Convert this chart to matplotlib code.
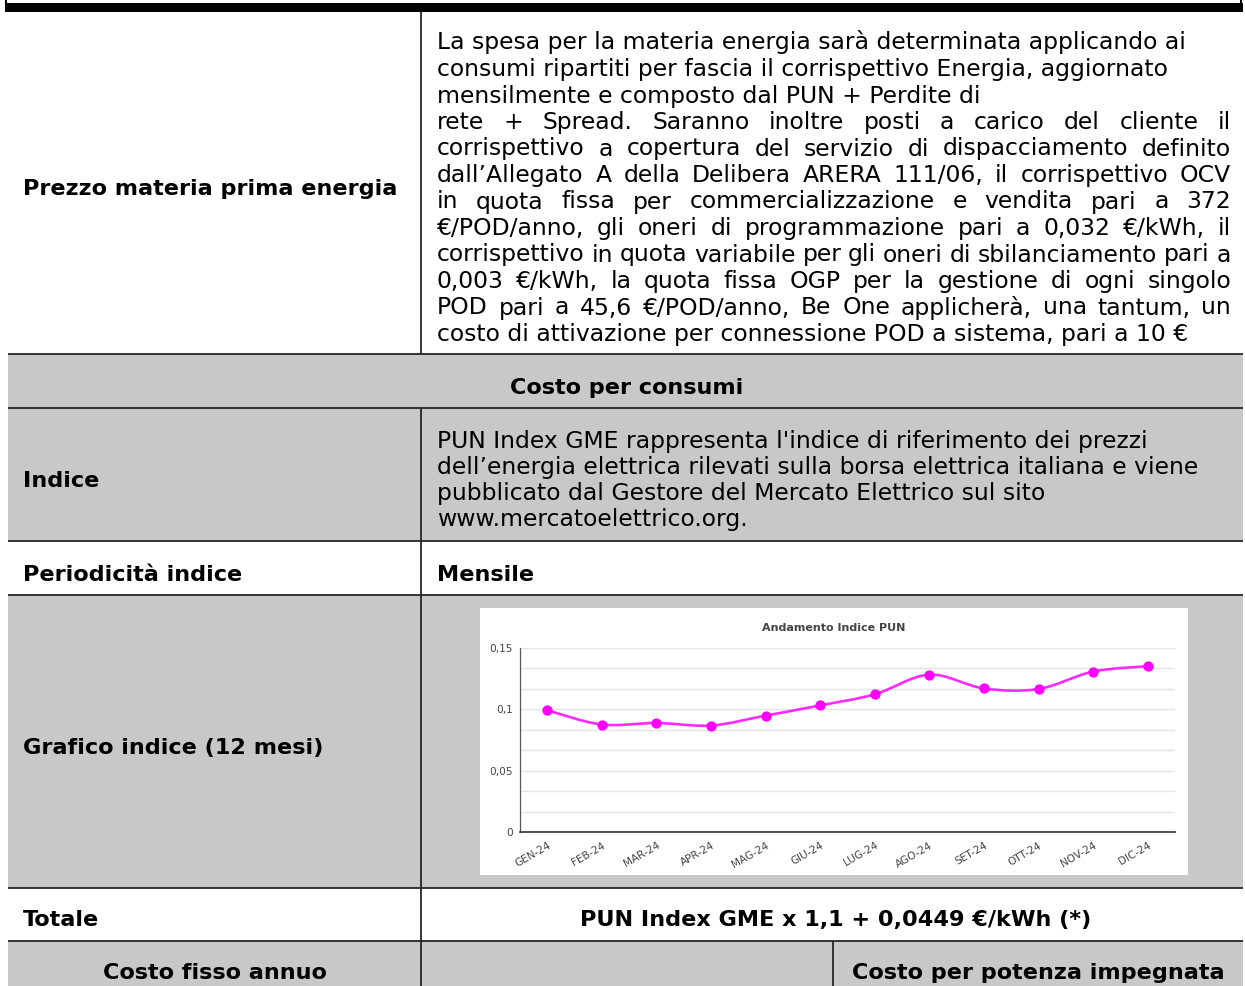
import matplotlib
matplotlib.use('Agg')
import matplotlib.pyplot as plt
from matplotlib.patches import Rectangle, PathPatch
from matplotlib.path import Path
from matplotlib.ticker import MultipleLocator, FuncFormatter

plt.rcParams['font.family'] = ['DejaVu Sans']

# dati del grafico
mesi = ['GEN-24', 'FEB-24', 'MAR-24', 'APR-24', 'MAG-24', 'GIU-24',
        'LUG-24', 'AGO-24', 'SET-24', 'OTT-24', 'NOV-24', 'DIC-24']
pun = [0.0992, 0.0876, 0.0889, 0.0868, 0.0949, 0.1032,
       0.1123, 0.1283, 0.1170, 0.1166, 0.1308, 0.1352]

# testi della tabella
prezzo_righe = [
    "La spesa per la materia energia sarà determinata applicando ai",
    "consumi ripartiti per fascia il corrispettivo Energia, aggiornato",
    "mensilmente e composto dal PUN + Perdite di",
    "rete + Spread. Saranno inoltre posti a carico del cliente il",
    "corrispettivo a copertura del servizio di dispacciamento definito",
    "dall’Allegato A della Delibera ARERA 111/06, il corrispettivo OCV",
    "in quota fissa per commercializzazione e vendita pari a 372",
    "€/POD/anno, gli oneri di programmazione pari a 0,032 €/kWh, il",
    "corrispettivo in quota variabile per gli oneri di sbilanciamento pari a",
    "0,003 €/kWh, la quota fissa OGP per la gestione di ogni singolo",
    "POD pari a 45,6 €/POD/anno, Be One applicherà, una tantum, un",
    "costo di attivazione per connessione POD a sistema, pari a 10 €",
]
prezzo_giustif = [False, False, False, True, True, True, True, True, True, True, True, False]

indice_righe = [
    "PUN Index GME rappresenta l'indice di riferimento dei prezzi",
    "dell’energia elettrica rilevati sulla borsa elettrica italiana e viene",
    "pubblicato dal Gestore del Mercato Elettrico sul sito",
    "www.mercatoelettrico.org.",
]

W, H = 1245, 986
fig = plt.figure(figsize=(W / 100, H / 100), dpi=100)
ax = fig.add_axes([0, 0, 1, 1])
ax.set_xlim(0, W)
ax.set_ylim(H, 0)
ax.axis('off')

GRIGIO = '#c8c8c8'
LINEA = '#262626'
BODY = 16.9
BOLD = 16.1

# riquadro nero in alto
ax.add_patch(Rectangle((5, 3), 1238, 9, fc='black', lw=0))
ax.vlines([6, 1241], 0, 5, color='black', lw=1.5)

# righe grigie
for y0, y1 in [(354, 408), (408, 541), (595, 888), (941, 986)]:
    ax.add_patch(Rectangle((8, y0), 1235, y1 - y0, fc=GRIGIO, lw=0))

ax.hlines([354, 408, 541, 595, 888, 941], 8, 1243, color=LINEA, lw=1.3)
ax.vlines(421, 12, 354, color=LINEA, lw=1.3)
ax.vlines(421, 408, 986, color=LINEA, lw=1.3)
ax.vlines(833, 941, 986, color=LINEA, lw=1.3)

renderer = fig.canvas.get_renderer()


def riga(testo, x0, y, x1=None, **kw):
    if x1 is None:
        ax.text(x0, y, testo, va='baseline', **kw)
        return
    parole = testo.split(' ')
    tt = [ax.text(0, y, p, va='baseline', **kw) for p in parole]
    larg = [t.get_window_extent(renderer).width for t in tt]
    gap = (x1 - x0 - sum(larg)) / (len(parole) - 1)
    pos = x0
    for t, w in zip(tt, larg):
        t.set_x(pos)
        pos += w + gap


# riga 1
ax.text(23, 195, 'Prezzo materia prima energia', fontsize=BOLD, fontweight='bold', va='baseline')
for i, (s, g) in enumerate(zip(prezzo_righe, prezzo_giustif)):
    riga(s, 437, 49.5 + i * 26.5, 1231 if g else None, fontsize=BODY)

# intestazione
ax.text(627, 394, 'Costo per consumi', fontsize=BOLD, fontweight='bold', ha='center', va='baseline')

# indice
ax.text(23, 487, 'Indice', fontsize=BOLD, fontweight='bold', va='baseline')
for i, s in enumerate(indice_righe):
    riga(s, 437, 448 + i * 26, fontsize=BODY)

ax.text(23, 581, 'Periodicità indice', fontsize=BOLD, fontweight='bold', va='baseline')
ax.text(437, 581, 'Mensile', fontsize=BOLD, fontweight='bold', va='baseline')

ax.text(23, 754, 'Grafico indice (12 mesi)', fontsize=BOLD, fontweight='bold', va='baseline')

ax.text(23, 926, 'Totale', fontsize=BOLD, fontweight='bold', va='baseline')
ax.text(836, 926, 'PUN Index GME x 1,1 + 0,0449 €/kWh (*)', fontsize=BOLD,
        fontweight='bold', ha='center', va='baseline')

ax.text(215, 979, 'Costo fisso annuo', fontsize=BOLD, fontweight='bold', ha='center', va='baseline')
ax.text(852, 979, 'Costo per potenza impegnata', fontsize=BOLD, fontweight='bold', va='baseline')

# grafico
ax.add_patch(Rectangle((480, 608), 708, 267, fc='white', lw=0))
ax.text(834, 628, 'Andamento Indice PUN', fontsize=8, fontweight='bold',
        color='#444444', ha='center', va='center')

cax = fig.add_axes([520 / W, 1 - 832 / H, 655 / W, 184 / H])
cax.set_facecolor('white')
x = list(range(len(mesi)))
cax.set_xlim(-0.5, len(mesi) - 0.5)
cax.set_ylim(0, 0.15)

# curva smussata (catmull-rom) tra i punti
pts = list(zip(x, pun))
n = len(pts)
verts = [pts[0]]
codes = [Path.MOVETO]
for i in range(n - 1):
    p0, p1, p2, p3 = pts[max(i - 1, 0)], pts[i], pts[i + 1], pts[min(i + 2, n - 1)]
    c1 = (p1[0] + (p2[0] - p0[0]) / 6, p1[1] + (p2[1] - p0[1]) / 6)
    c2 = (p2[0] - (p3[0] - p1[0]) / 6, p2[1] - (p3[1] - p1[1]) / 6)
    verts += [c1, c2, p2]
    codes += [Path.CURVE4] * 3
cax.add_patch(PathPatch(Path(verts, codes), fill=False, edgecolor='#ff2aff', lw=1.9, zorder=3))
cax.plot(x, pun, 'o', color='#ff00ff', ms=6.4, zorder=4, clip_on=False)

cax.yaxis.set_major_locator(MultipleLocator(0.05))
cax.yaxis.set_minor_locator(MultipleLocator(0.05 / 3))
cax.yaxis.set_major_formatter(FuncFormatter(lambda v, p: f'{v:g}'.replace('.', ',')))
cax.grid(which='both', axis='y', color='#e4e4e4', lw=1)
cax.set_axisbelow(True)
cax.set_xticks(x)
cax.set_xticklabels(mesi, rotation=30, ha='right', rotation_mode='anchor')
cax.tick_params(which='both', length=0, labelsize=7.6, colors='#444444')
cax.tick_params(axis='x', pad=6)
cax.tick_params(axis='y', pad=5)
for s in ['top', 'right']:
    cax.spines[s].set_visible(False)
cax.spines['left'].set_color('#555555')
cax.spines['left'].set_linewidth(0.9)
cax.spines['bottom'].set_color('#333333')
cax.spines['bottom'].set_linewidth(1.2)

fig.savefig('out.png', dpi=100)
